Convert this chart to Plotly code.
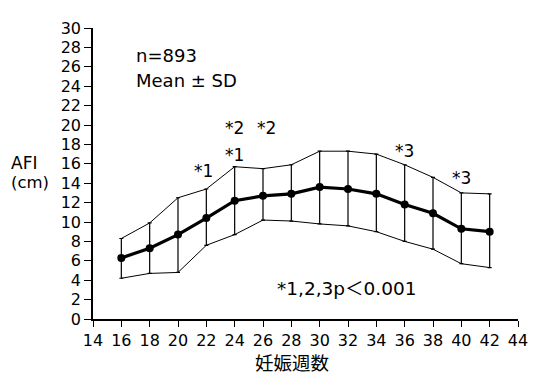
import plotly.graph_objects as go

weeks = [16, 18, 20, 22, 24, 26, 28, 30, 32, 34, 36, 38, 40, 42]
mean_afi = [6.3, 7.3, 8.7, 10.4, 12.2, 12.7, 12.9, 13.6, 13.4, 12.9, 11.8, 10.9, 9.3, 9.0]
upper_sd = [8.3, 9.9, 12.5, 13.4, 15.7, 15.5, 15.9, 17.3, 17.3, 17.0, 15.9, 14.6, 13.0, 12.9]
lower_sd = [4.2, 4.7, 4.8, 7.6, 8.7, 10.2, 10.1, 9.8, 9.6, 9.0, 8.0, 7.2, 5.7, 5.3]

x_ticks = list(range(14, 45, 2))
y_ticks = list(range(0, 31, 2))

sig_labels = ["*1", "*1", "*2", "*2", "*3", "*3"]
sig_weeks = [22, 24, 24, 26, 36, 40]

FONT = "DejaVu Sans, Noto Sans CJK JP"
CJK = "Noto Sans CJK JP, DejaVu Sans"

err_plus = [u - m for u, m in zip(upper_sd, mean_afi)]
err_minus = [m - l for m, l in zip(mean_afi, lower_sd)]

fig = go.Figure()
fig.add_trace(go.Scatter(x=weeks, y=upper_sd, mode="lines",
                         line=dict(color="black", width=1), hoverinfo="skip"))
fig.add_trace(go.Scatter(x=weeks, y=lower_sd, mode="lines",
                         line=dict(color="black", width=1), hoverinfo="skip"))
fig.add_trace(go.Scatter(
    x=weeks, y=mean_afi, mode="lines+markers",
    line=dict(color="black", width=3.2),
    marker=dict(color="black", size=8),
    error_y=dict(type="data", symmetric=False, array=err_plus, arrayminus=err_minus,
                 color="black", thickness=1.2, width=2),
))

# the page has an 8px body margin: size the figure so the plot lands where the reference has it
OFF = 8
W, H = 539 - OFF, 379 - OFF
# plot area in page pixels: x 93..527, y 19..319
L, T = 93 - OFF, 19 - OFF
R, B = W - (527 - OFF), H - (319 - OFF)
pw, ph = W - L - R, H - T - B

offsets = {22: 1.9, 36: 1.4, 40: 1.5}
annotations = []
for lab, wk in zip(sig_labels, sig_weeks):
    i = weeks.index(wk)
    if lab == "*2":
        y = 19.7
        xx = wk + (0.25 if wk == 26 else 0)
    elif lab == "*1" and wk == 24:
        y = 16.9
        xx = wk
    else:
        y = upper_sd[i] + offsets[wk]
        xx = wk - (0.2 if wk == 22 else 0)
    annotations.append(dict(x=xx, y=y, xref="x", yref="y", text=lab, showarrow=False,
                            font=dict(family=FONT, size=17, color="black")))


def px_text(px, py, txt, anchor="left", size=18, family=FONT, vanchor="middle"):
    px, py = px - OFF, py - OFF
    return dict(x=(px - L) / pw, y=1 - (py - T) / ph, xref="paper", yref="paper",
                text=txt, showarrow=False, xanchor=anchor, yanchor=vanchor,
                font=dict(family=family, size=size, color="black"))


annotations += [
    px_text(135, 47, "n=893"),
    px_text(135, 73, "Mean ± SD"),
    px_text(279, 288, "*1,2,3p＜0.001", size=18.5),
    px_text(23, 158, "AFI", "center", 17),
    px_text(29, 178, "(cm)", "center", 16.5),
    px_text(296, 378.5, "妊娠週数", "center", 18.5, CJK, "bottom"),
]

fig.update_layout(
    width=W, height=H,
    margin=dict(l=L, r=R, t=T, b=B),
    paper_bgcolor="white", plot_bgcolor="white",
    showlegend=False,
    font=dict(family=FONT, size=16, color="black"),
    annotations=annotations,
    xaxis=dict(range=[14, 44], tickvals=x_ticks, ticktext=[str(v) for v in x_ticks],
               showgrid=False, zeroline=False, showline=True, linecolor="black", linewidth=1.5,
               ticks="outside", ticklen=6, tickcolor="black", tickwidth=1,
               ticklabelstandoff=0,
               tickfont=dict(family=FONT, size=16)),
    yaxis=dict(range=[0, 30], tickvals=y_ticks, ticktext=[str(v) for v in y_ticks],
               showgrid=False, zeroline=False, showline=True, linecolor="black", linewidth=1.5,
               ticks="outside", ticklen=7, tickcolor="black", tickwidth=1,
               tickfont=dict(family=FONT, size=16)),
)

fig.write_html("out.html")
